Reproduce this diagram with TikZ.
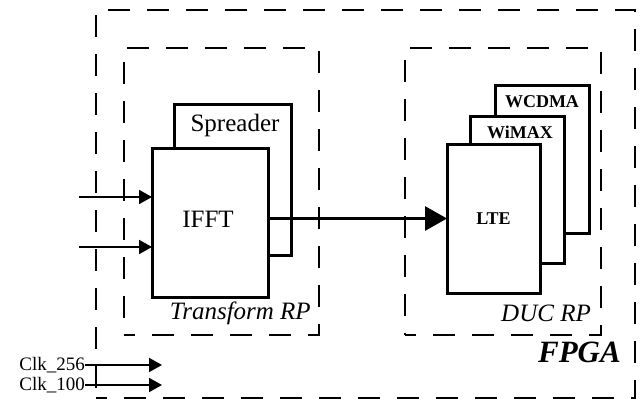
\documentclass[tikz,border=0pt]{standalone}
\usepackage{fontspec}
\setmainfont{Liberation Serif}
\usetikzlibrary{arrows.meta}
\begin{document}
\begin{tikzpicture}[x=1pt,y=-1pt,
  blk/.style={draw, line width=3pt, fill=white, inner sep=0pt, outer sep=0pt},
  region/.style={draw, line width=2pt, dash pattern=on 22pt off 17pt, dash phase=11pt, inner sep=0pt, outer sep=0pt},
  lbl/.style={font=\fontsize{25}{28}\selectfont, inner sep=0pt},
  ital/.style={font=\fontsize{25}{28}\selectfont\itshape, inner sep=0pt},
  bsmall/.style={font=\fontsize{18}{20}\selectfont\bfseries, inner sep=0pt},
  clk/.style={font=\fontsize{19}{21}\selectfont, inner sep=0pt, text height=12pt, text depth=1pt},
  arr/.style={line width=2pt, -{Triangle[length=13pt,width=14pt]}},
  bigarr/.style={line width=3pt, -{Triangle[length=22pt,width=24pt]}}
]
\useasboundingbox (0,0) rectangle (641,413);

% regions
\node[region, minimum width=539, minimum height=388] (fpga) at (365.5,204) {};
\node[region, minimum width=195, minimum height=287] (trp) at (221.5,191.5) {};
\node[region, minimum width=196, minimum height=287] (duc) at (503,191.5) {};

% transform blocks
\node[blk, minimum width=117, minimum height=151] (spr) at (232.5,179.5) {};
\node[lbl] (sprt) at (235,125) {Spreader};
\node[blk, minimum width=116, minimum height=149] (ifft) at (210,222.5) {};
\node[lbl] (ifftt) at (208,219) {IFFT};

% DUC blocks
\node[blk, minimum width=94, minimum height=148] (wcdma) at (542,159) {};
\node[bsmall] (wcdmat) at (542,102) {WCDMA};
\node[blk, minimum width=94, minimum height=147] (wimax) at (517,189.5) {};
\node[bsmall] (wimaxt) at (520,132) {WiMAX};
\node[blk, minimum width=93, minimum height=149, bsmall] (lte) at (493.5,218.5) {LTE};

% labels
\node[ital, anchor=east] (trpl) at (311,313) {Transform RP};
\node[ital, anchor=east] (ducl) at (591,313) {DUC RP};
\node[font=\fontsize{31}{34}\selectfont\bfseries\itshape, inner sep=0pt, anchor=east] (fpgal) at (621,352) {FPGA};

% inputs
\coordinate (in1) at (79,197);
\coordinate (in2) at (79,247);
\draw[arr] (in1) -- (ifft.west |- in1);
\draw[arr] (in2) -- (ifft.west |- in2);

% main connection
\draw[bigarr] (ifft.east |- lte.west) -- (lte.west);

% clocks
\node[clk, anchor=east] (c256) at (85,365) {Clk\_256};
\node[clk, anchor=east] (c100) at (85,385) {Clk\_100};
\coordinate (c256e) at (162,365);
\coordinate (c100e) at (162,385);
\draw[arr] (c256.east) -- (c256e);
\draw[arr] (c100.east) -- (c100e);
\end{tikzpicture}
\end{document}
